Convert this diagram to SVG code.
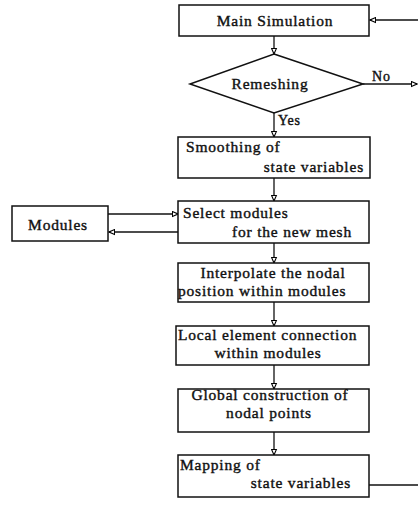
<svg xmlns="http://www.w3.org/2000/svg" width="418" height="505" viewBox="0 0 418 505">
  <defs>
    <marker id="head" viewBox="0 0 10 10" refX="9" refY="5" markerWidth="7" markerHeight="7" markerUnits="userSpaceOnUse" orient="auto">
      <path d="M1,1.5 L9,5 L1,8.5 Z" fill="#fff" stroke="#000" stroke-width="1.6"/>
    </marker>
    <style>
      .box { fill: #fff; stroke: #111; stroke-width: 1.5; }
      .lbl { font-family: "Liberation Serif", "Times New Roman", serif; font-size: 15.5px; letter-spacing: 0.8px; fill: #111; stroke: #111; stroke-width: 0.4; }
      .mid { text-anchor: middle; }
      .end { text-anchor: end; }
      .wire { fill: none; stroke: #111; stroke-width: 1.3; }
      .arrow { marker-end: url(#head); }
    </style>
  </defs>
  <rect width="418" height="505" fill="#fff"/>

  <g id="connectors">
    <line class="wire arrow" x1="274" y1="36" x2="274" y2="54"/>
    <line class="wire arrow" x1="274" y1="113" x2="274" y2="137"/>
    <line class="wire arrow" x1="274" y1="178" x2="274" y2="201"/>
    <line class="wire arrow" x1="274" y1="243" x2="274" y2="263"/>
    <line class="wire arrow" x1="274" y1="302" x2="274" y2="326"/>
    <line class="wire arrow" x1="274" y1="365" x2="274" y2="389"/>
    <line class="wire arrow" x1="274" y1="432" x2="274" y2="455"/>
    <line class="wire arrow" x1="363" y1="84" x2="417" y2="84"/>
    <line class="wire arrow" x1="418" y1="20" x2="370" y2="20"/>
    <line class="wire" x1="369" y1="485" x2="418" y2="485"/>
    <line class="wire arrow" x1="108" y1="214" x2="178" y2="214"/>
    <line class="wire arrow" x1="178" y1="232" x2="109" y2="232"/>
    <text class="lbl" x="372" y="81" style="font-size:14px">No</text>
    <text class="lbl" x="278" y="125" style="font-size:14px">Yes</text>
  </g>

  <g id="main-simulation">
    <rect class="box" x="179" y="5" width="190" height="31"/>
    <text class="lbl mid" x="275" y="26">Main Simulation</text>
  </g>

  <g id="remeshing">
    <polygon class="box" points="274,54 363,84 274,113 190,84"/>
    <text class="lbl mid" x="270" y="89">Remeshing</text>
  </g>

  <g id="smoothing">
    <rect class="box" x="178" y="137" width="192" height="41"/>
    <text class="lbl" x="186" y="152">Smoothing of</text>
    <text class="lbl end" x="364" y="172">state variables</text>
  </g>

  <g id="select-modules">
    <rect class="box" x="178" y="201" width="191" height="42"/>
    <text class="lbl" x="183" y="218">Select modules</text>
    <text class="lbl end" x="352" y="237">for the new mesh</text>
  </g>

  <g id="modules">
    <rect class="box" x="12" y="206" width="96" height="35"/>
    <text class="lbl mid" x="58" y="230">Modules</text>
  </g>

  <g id="interpolate">
    <rect class="box" x="178" y="263" width="191" height="39"/>
    <text class="lbl mid" x="273" y="278">Interpolate the nodal</text>
    <text class="lbl" x="178" y="296">position within modules</text>
  </g>

  <g id="local-connection">
    <rect class="box" x="176" y="326" width="193" height="39"/>
    <text class="lbl" x="178" y="340">Local element connection</text>
    <text class="lbl mid" x="268" y="358">within modules</text>
  </g>

  <g id="global-construction">
    <rect class="box" x="178" y="389" width="191" height="43"/>
    <text class="lbl mid" x="270" y="400">Global construction of</text>
    <text class="lbl mid" x="269" y="418">nodal points</text>
  </g>

  <g id="mapping">
    <rect class="box" x="178" y="455" width="191" height="42"/>
    <text class="lbl" x="180" y="470">Mapping of</text>
    <text class="lbl end" x="351" y="488">state variables</text>
  </g>
</svg>
